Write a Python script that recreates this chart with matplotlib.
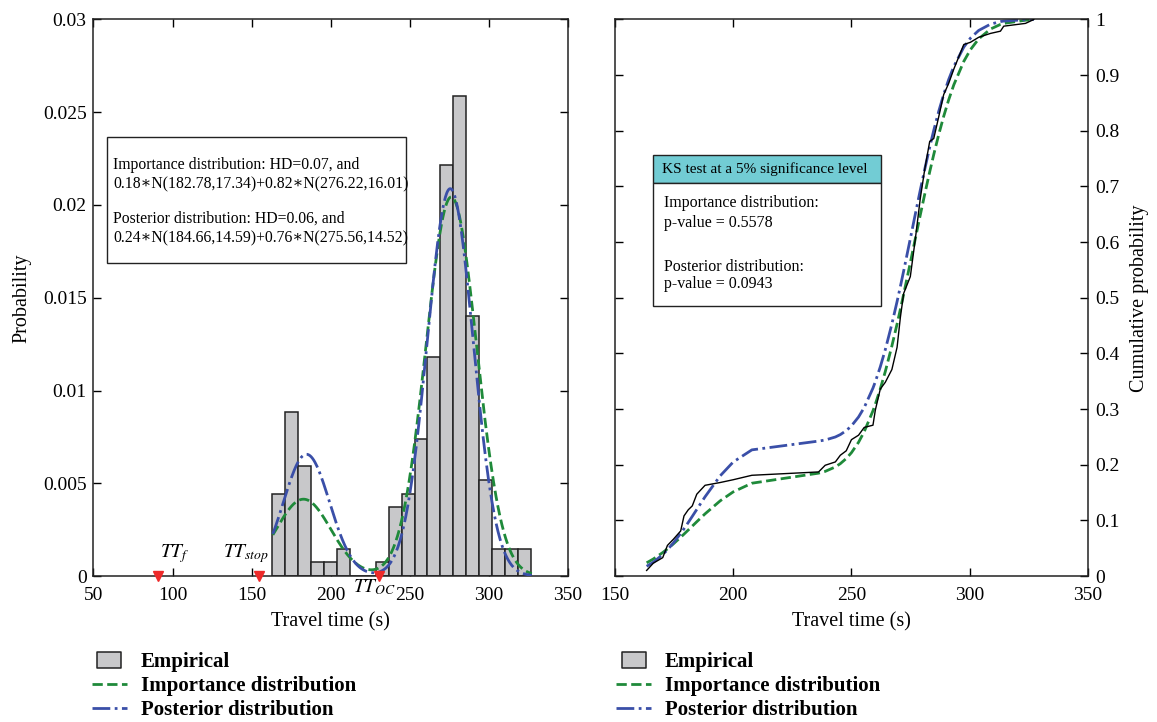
import math
import numpy as np
import matplotlib
matplotlib.use("Agg")
import matplotlib.pyplot as plt
from matplotlib.patches import Rectangle
from matplotlib.lines import Line2D
from matplotlib.path import Path

plt.rcParams['font.family'] = ['Liberation Serif', 'DejaVu Serif']
plt.rcParams['mathtext.fontset'] = 'stix'

# ---------------- data ----------------
bin_start = 163.0
bin_width = 8.18
hist_heights = [0.00442, 0.00886, 0.00592, 0.00074, 0.00074, 0.00148, 0.0, 0.0,
                0.00074, 0.0037, 0.00442, 0.0074, 0.01182, 0.02217, 0.02587,
                0.01404, 0.00518, 0.00148, 0.00148, 0.00148]

imp_w = [0.18, 0.82]
imp_mu = [182.78, 276.22]
imp_sd = [17.34, 16.01]
post_w = [0.24, 0.76]
post_mu = [184.66, 275.56]
post_sd = [14.59, 14.52]

tt_names = ['$TT_f$', '$TT_{stop}$', '$TT_{OC}$']
tt_values = [90.6, 154.5, 230.6]

ecdf_x = [163.4, 166.2, 170.2, 172.2, 174.7, 177.8, 179.2, 181.0, 182.7, 184.6,
          188.1, 194.5, 200.0, 207.9, 236.1, 238.9, 243.2, 245.3, 247.8, 250.0,
          253.0, 255.4, 259.1, 260.1, 262.2, 264.3, 267.1, 269.3, 270.7, 272.1,
          274.9, 277.0, 279.1, 281.0, 283.1, 284.8, 286.9, 289.0, 291.1, 293.3,
          297.5, 300.3, 303.8, 308.8, 313.0, 314.4, 323.6, 327.1]
ecdf_y = [0.010, 0.023, 0.033, 0.055, 0.066, 0.081, 0.108, 0.119, 0.126, 0.147,
          0.163, 0.168, 0.173, 0.181, 0.187, 0.199, 0.205, 0.217, 0.225, 0.245,
          0.253, 0.267, 0.271, 0.298, 0.336, 0.348, 0.371, 0.411, 0.465, 0.508,
          0.538, 0.605, 0.678, 0.731, 0.781, 0.786, 0.825, 0.865, 0.885, 0.911,
          0.955, 0.959, 0.968, 0.975, 0.979, 0.988, 0.993, 1.000]

left_yticks = [0, 0.005, 0.01, 0.015, 0.02, 0.025, 0.03]
left_yticklabels = ['0', '0.005', '0.01', '0.015', '0.02', '0.025', '0.03']
right_yticks = [0, 0.1, 0.2, 0.3, 0.4, 0.5, 0.6, 0.7, 0.8, 0.9, 1.0]
right_yticklabels = ['0', '0.1', '0.2', '0.3', '0.4', '0.5', '0.6', '0.7', '0.8', '0.9', '1']

box_lines = ['Importance distribution: HD=0.07, and',
             '0.18\u2217N(182.78,17.34)+0.82\u2217N(276.22,16.01)',
             'Posterior distribution: HD=0.06, and',
             '0.24\u2217N(184.66,14.59)+0.76\u2217N(275.56,14.52)']
ks_title = 'KS test at a 5% significance level'
ks_lines = ['Importance distribution:', 'p-value = 0.5578',
            'Posterior distribution:', 'p-value = 0.0943']

legend_labels = ['Empirical', 'Importance distribution', 'Posterior distribution']

# ---------------- helpers ----------------
def mix_pdf(x, w, mu, sd):
    x = np.asarray(x, float)
    out = np.zeros_like(x)
    for wi, mi, si in zip(w, mu, sd):
        out += wi * np.exp(-0.5 * ((x - mi) / si) ** 2) / (si * math.sqrt(2 * math.pi))
    return out

def mix_cdf(x, w, mu, sd):
    out = []
    for xi in x:
        s = 0.0
        for wi, mi, si in zip(w, mu, sd):
            s += wi * 0.5 * (1 + math.erf((xi - mi) / (si * math.sqrt(2))))
        out.append(s)
    return np.array(out)

green = '#1f8a3a'
blue = '#3a4fa8'
bar_face = '#c8c8ca'

fig = plt.figure(figsize=(11.57, 7.22), dpi=100)
ax1 = fig.add_axes([0.0808, 0.2022, 0.4101, 0.7708])
ax2 = fig.add_axes([0.5315, 0.2022, 0.4088, 0.7708])

# ---------------- left panel ----------------
edges = bin_start + bin_width * np.arange(len(hist_heights))
ax1.bar(edges, hist_heights, width=bin_width, align='edge', color=bar_face,
        edgecolor='#222222', linewidth=1.1, zorder=2)
xs = np.linspace(ecdf_x[0], ecdf_x[-1], 400)
ax1.plot(xs, mix_pdf(xs, imp_w, imp_mu, imp_sd), color=green, ls='--', lw=2.0, zorder=3)
ax1.plot(xs, mix_pdf(xs, post_w, post_mu, post_sd), color=blue, ls='-.', lw=2.0, zorder=3)
ax1.plot(tt_values, [0, 0, 0], 'v', color='#ee2a2a', ms=7, clip_on=False, zorder=5)
ax1.text(101.5, 0.0012, tt_names[0], fontsize=14, ha='center', va='center')
ax1.text(146.5, 0.0012, tt_names[1], fontsize=14, ha='center', va='center')
ax1.text(227.5, -0.0006, tt_names[2], fontsize=14, ha='center', va='center', clip_on=False)

ax1.set_xlim(50, 350)
ax1.set_ylim(0, 0.03)
ax1.set_xticks([50, 100, 150, 200, 250, 300, 350])
ax1.set_yticks(left_yticks)
ax1.set_yticklabels(left_yticklabels)
ax1.set_xlabel('Travel time (s)', fontsize=14.5, labelpad=6)
ax1.set_ylabel('Probability', fontsize=14.5, labelpad=8)

ax1.add_patch(Rectangle((0.0285, 0.5624), 0.6301, 0.2266, transform=ax1.transAxes,
                        facecolor='white', edgecolor='#222222', lw=1.0, zorder=6))
for ty, line in zip([0.7385, 0.7044, 0.6415, 0.6074], box_lines):
    ax1.text(0.041, ty, line, transform=ax1.transAxes, fontsize=11.3, va='center',
             ha='left', zorder=7)

# ---------------- right panel ----------------
ax2.plot(ecdf_x, ecdf_y, color='black', lw=1.0, zorder=3)
ax2.plot(ecdf_x, mix_cdf(ecdf_x, imp_w, imp_mu, imp_sd), color=green, ls='--', lw=2.0, zorder=2)
ax2.plot(ecdf_x, mix_cdf(ecdf_x, post_w, post_mu, post_sd), color=blue, ls='-.', lw=2.0, zorder=2)
ax2.set_xlim(150, 350)
ax2.set_ylim(0, 1)
ax2.set_xticks([150, 200, 250, 300, 350])
ax2.set_yticks(right_yticks)
ax2.set_yticklabels(right_yticklabels)
ax2.set_xlabel('Travel time (s)', fontsize=14.5, labelpad=6)
ax2.yaxis.set_label_position('right')
ax2.set_ylabel('Cumulative probability', fontsize=14.5, labelpad=8)

ax2.add_patch(Rectangle((165.9, 0.707), 96.5, 0.049, facecolor='#72ccd4',
                        edgecolor='#222222', lw=1.0, zorder=6))
ax2.add_patch(Rectangle((165.9, 0.486), 96.5, 0.221, facecolor='white',
                        edgecolor='#222222', lw=1.0, zorder=6))
ax2.text(169.8, 0.7315, ks_title, fontsize=11, va='center', ha='left', zorder=7)
for ty, line in zip([0.670, 0.634, 0.555, 0.524], ks_lines):
    ax2.text(170.7, ty, line, fontsize=11.5, va='center', ha='left', zorder=7)

for ax in (ax1, ax2):
    ax.tick_params(direction='in', length=6, width=1, labelsize=14,
                   top=True, bottom=True, left=True, right=True)
    ax.tick_params(axis='x', pad=8)
    ax.tick_params(axis='y', pad=5)
    for s in ax.spines.values():
        s.set_linewidth(1.1)
        s.set_color('#222222')
ax2.tick_params(labelleft=False, labelright=True)

# ---------------- legends ----------------
rect_path = Path([(-1, -0.67), (1, -0.67), (1, 0.67), (-1, 0.67), (-1, -0.67)],
                 [Path.MOVETO, Path.LINETO, Path.LINETO, Path.LINETO, Path.CLOSEPOLY])
handles = [Line2D([], [], ls='none', marker=rect_path, markersize=17.5,
                  markerfacecolor=bar_face, markeredgecolor='#222222', markeredgewidth=1.1),
           Line2D([], [], color=green, ls='--', lw=2.0),
           Line2D([], [], color=blue, ls='-.', lw=2.0)]
for xa in (0.0795, 0.5325):
    fig.legend(handles, legend_labels, loc='upper left', bbox_to_anchor=(xa, 0.097),
               frameon=False, prop={'weight': 'bold', 'size': 15}, handlelength=1.68,
               handletextpad=0.67, labelspacing=0.19, borderaxespad=0, borderpad=0)

fig.savefig('out.png', dpi=100)
